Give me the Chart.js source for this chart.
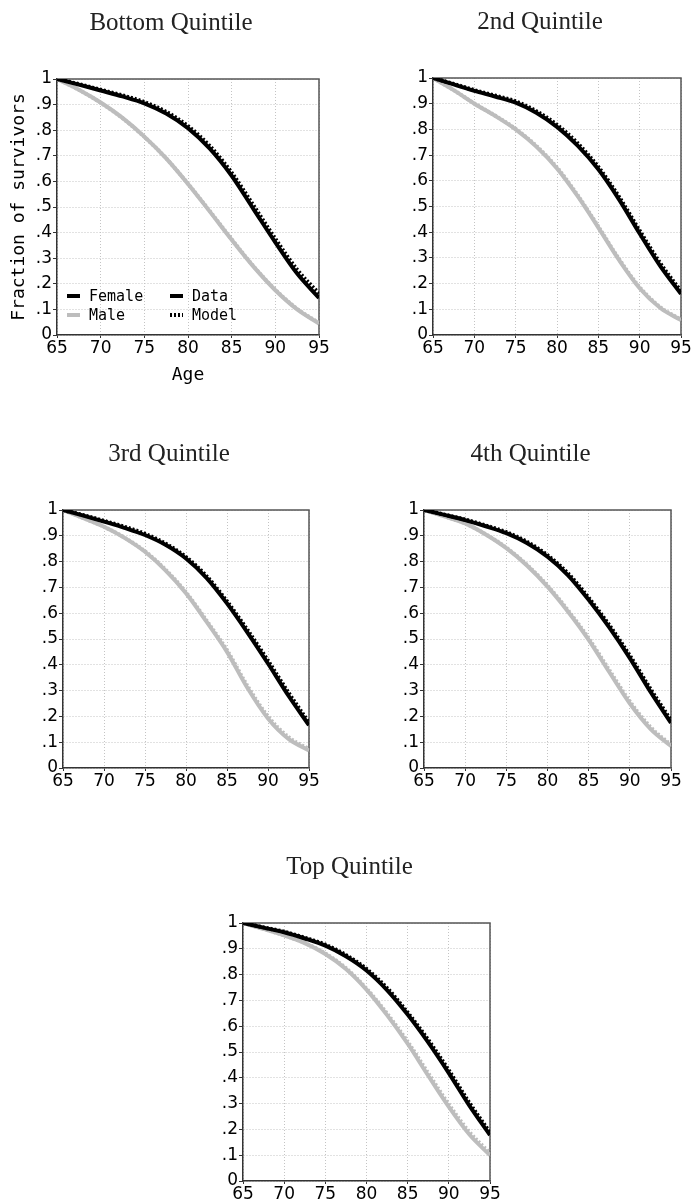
<!DOCTYPE html>
<html>
<head>
<meta charset="utf-8">
<title>Fraction of survivors by income quintile</title>
<script src="https://cdn.jsdelivr.net/npm/chart.js@4.4.1/dist/chart.umd.min.js"></script>
<style>
  html, body { margin: 0; padding: 0; background: #fff; }
  #page { position: relative; width: 692px; height: 1200px; overflow: hidden; }
  #page canvas { position: absolute; }
</style>
</head>
<body>
<div id="page"></div>
<script>
// ages on the x axis, a point every 2.5 years
const ages = [65, 67.5, 70, 72.5, 75, 77.5, 80, 82.5, 85, 87.5, 90, 92.5, 95];
const xTickLabels = ['65', '70', '75', '80', '85', '90', '95'];
const yTickLabels = ['0', '.1', '.2', '.3', '.4', '.5', '.6', '.7', '.8', '.9', '1'];
const quintileTitles = ['Bottom Quintile', '2nd Quintile', '3rd Quintile', '4th Quintile', 'Top Quintile'];
const keyLabels = ['Female', 'Male', 'Data', 'Model'];

// fraction still alive at each age, women
const femaleData1 = [1.000, 0.978, 0.955, 0.932, 0.905, 0.865, 0.808, 0.728, 0.622, 0.492, 0.362, 0.240, 0.145];
const femaleData2 = [1.000, 0.975, 0.950, 0.928, 0.904, 0.865, 0.810, 0.737, 0.645, 0.528, 0.395, 0.268, 0.160];
const femaleData3 = [1.000, 0.978, 0.955, 0.931, 0.903, 0.865, 0.812, 0.737, 0.638, 0.525, 0.405, 0.280, 0.166];
const femaleData4 = [1.000, 0.981, 0.961, 0.937, 0.910, 0.872, 0.819, 0.747, 0.652, 0.545, 0.426, 0.296, 0.175];
const femaleData5 = [1.000, 0.982, 0.964, 0.940, 0.912, 0.871, 0.816, 0.740, 0.645, 0.537, 0.418, 0.292, 0.178];

const femaleModel1 = [1.000, 0.980, 0.958, 0.936, 0.910, 0.872, 0.816, 0.738, 0.634, 0.506, 0.376, 0.255, 0.162];
const femaleModel2 = [1.000, 0.977, 0.953, 0.932, 0.909, 0.871, 0.818, 0.746, 0.654, 0.538, 0.406, 0.279, 0.170];
const femaleModel3 = [1.000, 0.980, 0.958, 0.935, 0.908, 0.870, 0.818, 0.744, 0.646, 0.535, 0.416, 0.292, 0.176];
const femaleModel4 = [1.000, 0.982, 0.963, 0.940, 0.914, 0.877, 0.825, 0.754, 0.660, 0.554, 0.436, 0.307, 0.185];
const femaleModel5 = [1.000, 0.983, 0.966, 0.943, 0.916, 0.876, 0.822, 0.748, 0.653, 0.547, 0.429, 0.303, 0.188];

// same for men
const maleData1 = [1.000, 0.958, 0.908, 0.848, 0.775, 0.690, 0.590, 0.482, 0.372, 0.267, 0.175, 0.100, 0.045];
const maleData2 = [1.000, 0.953, 0.900, 0.853, 0.800, 0.733, 0.648, 0.540, 0.418, 0.292, 0.182, 0.105, 0.058];
const maleData3 = [1.000, 0.968, 0.935, 0.892, 0.838, 0.766, 0.677, 0.567, 0.450, 0.310, 0.192, 0.113, 0.068];
const maleData4 = [1.000, 0.975, 0.948, 0.905, 0.852, 0.785, 0.703, 0.606, 0.497, 0.372, 0.250, 0.152, 0.085];
const maleData5 = [1.000, 0.977, 0.952, 0.922, 0.880, 0.822, 0.742, 0.643, 0.532, 0.408, 0.287, 0.180, 0.100];

const maleModel1 = [1.000, 0.958, 0.907, 0.847, 0.774, 0.690, 0.591, 0.484, 0.374, 0.269, 0.177, 0.102, 0.047];
const maleModel2 = [1.000, 0.953, 0.901, 0.854, 0.802, 0.736, 0.652, 0.544, 0.422, 0.296, 0.186, 0.108, 0.060];
const maleModel3 = [1.000, 0.968, 0.935, 0.893, 0.840, 0.769, 0.681, 0.572, 0.457, 0.318, 0.200, 0.120, 0.073];
const maleModel4 = [1.000, 0.975, 0.948, 0.906, 0.854, 0.788, 0.707, 0.611, 0.503, 0.380, 0.258, 0.159, 0.090];
const maleModel5 = [1.000, 0.977, 0.952, 0.923, 0.882, 0.825, 0.746, 0.649, 0.540, 0.418, 0.297, 0.190, 0.108];

const femaleData = [femaleData1, femaleData2, femaleData3, femaleData4, femaleData5];
const femaleModel = [femaleModel1, femaleModel2, femaleModel3, femaleModel4, femaleModel5];
const maleData = [maleData1, maleData2, maleData3, maleData4, maleData5];
const maleModel = [maleModel1, maleModel2, maleModel3, maleModel4, maleModel5];

// where each plot box sits on the page
const plotBoxes = [
    { left: 57,  top: 79,  right: 319, bottom: 335 },
    { left: 433, top: 78,  right: 681, bottom: 335 },
    { left: 63,  top: 510, right: 309, bottom: 768 },
    { left: 424, top: 510, right: 671, bottom: 768 },
    { left: 243, top: 923, right: 490, bottom: 1181 }
];

const FEMALE = '#000000';
const MALE = '#bdbdbd';
const tickFont = { family: 'DejaVu Sans', size: 17 };
const monoFont = { family: 'DejaVu Sans Mono', size: 18 };

// top and right edges of the plot frame
const frameLines = {
    id: 'frameLines',
    beforeDatasetsDraw(chart) {
        const { ctx, chartArea: a } = chart;
        ctx.save();
        ctx.strokeStyle = '#555';
        ctx.lineWidth = 1.5;
        ctx.beginPath();
        ctx.moveTo(a.left, a.top);
        ctx.lineTo(a.right, a.top);
        ctx.lineTo(a.right, a.bottom);
        ctx.stroke();
        ctx.restore();
    }
};

// serif heading above each panel
const panelHeading = {
    id: 'panelHeading',
    afterDraw(chart, args, opts) {
        const { ctx, chartArea: a } = chart;
        ctx.save();
        ctx.font = '25px "Liberation Serif"';
        ctx.fillStyle = '#222';
        ctx.textAlign = 'center';
        ctx.textBaseline = 'alphabetic';
        ctx.fillText(opts.text, (a.left + a.right) / 2 + opts.offsetX, a.top - opts.rise);
        ctx.restore();
    }
};

// two-column key inside the first panel
const keyBox = {
    id: 'keyBox',
    afterDatasetsDraw(chart, args, opts) {
        if (!opts.show) return;
        const { ctx, chartArea: a } = chart;
        const items = [
            { text: keyLabels[0], color: FEMALE, dash: [], col: 0, row: 0 },
            { text: keyLabels[1], color: MALE, dash: [], col: 0, row: 1 },
            { text: keyLabels[2], color: FEMALE, dash: [], col: 1, row: 0 },
            { text: keyLabels[3], color: FEMALE, dash: [2, 2], col: 1, row: 1 }
        ];
        const colX = [a.left + 10, a.left + 113];
        const rowY = [a.bottom - 39, a.bottom - 20];
        ctx.save();
        ctx.font = '15px "DejaVu Sans Mono"';
        ctx.textBaseline = 'middle';
        items.forEach(it => {
            const x = colX[it.col], y = rowY[it.row];
            ctx.strokeStyle = it.color;
            ctx.lineWidth = 4;
            ctx.setLineDash(it.dash);
            ctx.beginPath();
            ctx.moveTo(x, y);
            ctx.lineTo(x + 13, y);
            ctx.stroke();
            ctx.setLineDash([]);
            ctx.fillStyle = '#000';
            ctx.fillText(it.text, x + 22, y + 1);
        });
        ctx.restore();
    }
};

function toPoints(values) {
    return values.map((v, i) => ({ x: ages[i], y: v }));
}

function line(label, values, color, dashed) {
    return {
        label: label,
        data: toPoints(values),
        borderColor: color,
        borderWidth: 4,
        borderDash: dashed ? [2, 2] : [],
        pointRadius: 0,
        fill: false,
        cubicInterpolationMode: 'monotone'
    };
}

function drawPanel(i) {
    const box = plotBoxes[i];
    const first = i === 0;
    const padTop = 82;
    const padRight = 14;
    const canvasLeft = first ? 0 : box.left - 42;
    const yAxisWidth = box.left - canvasLeft;
    const xAxisHeight = first ? 56 : 26;
    const width = yAxisWidth + (box.right - box.left) + padRight;
    const height = padTop + (box.bottom - box.top) + xAxisHeight;

    const canvas = document.createElement('canvas');
    canvas.width = width;
    canvas.height = height;
    canvas.style.left = canvasLeft + 'px';
    canvas.style.top = (box.top - padTop) + 'px';
    document.getElementById('page').appendChild(canvas);

    new Chart(canvas.getContext('2d'), {
        type: 'line',
        data: {
            datasets: [
                line('Female data', femaleData[i], FEMALE, false),
                line('Female model', femaleModel[i], FEMALE, true),
                line('Male data', maleData[i], MALE, false),
                line('Male model', maleModel[i], MALE, true)
            ]
        },
        options: {
            responsive: false,
            animation: false,
            devicePixelRatio: 1,
            layout: { padding: { left: 0, top: padTop, right: padRight, bottom: 0 } },
            scales: {
                x: {
                    type: 'linear',
                    min: 65,
                    max: 95,
                    afterFit: s => { s.height = xAxisHeight; },
                    ticks: {
                        stepSize: 5,
                        autoSkip: false,
                        maxRotation: 0,
                        padding: 0,
                        color: '#000',
                        font: tickFont,
                        callback: (v, idx) => xTickLabels[idx]
                    },
                    grid: { color: '#c4c4c4', lineWidth: 1, tickLength: 3, tickColor: '#333', tickWidth: 1 },
                    border: { display: true, color: '#333', width: 1.5, dash: [1, 2] },
                    title: {
                        display: first,
                        text: 'Age',
                        color: '#000',
                        font: monoFont,
                        padding: { top: 0, bottom: 5 }
                    }
                },
                y: {
                    min: 0,
                    max: 1,
                    afterFit: s => { s.width = yAxisWidth; },
                    ticks: {
                        stepSize: 0.1,
                        autoSkip: false,
                        padding: 1,
                        color: '#000',
                        font: tickFont,
                        callback: (v, idx) => yTickLabels[idx]
                    },
                    grid: { color: '#c4c4c4', lineWidth: 1, tickLength: 4, tickColor: '#333', tickWidth: 1 },
                    border: { display: true, color: '#333', width: 1.5, dash: [1, 2] },
                    title: {
                        display: first,
                        text: 'Fraction of survivors',
                        color: '#000',
                        font: monoFont,
                        padding: { top: 9, bottom: 0 }
                    }
                }
            },
            plugins: {
                legend: { display: false },
                tooltip: { enabled: false },
                panelHeading: { text: quintileTitles[i], offsetX: -17, rise: 49 },
                keyBox: { show: first }
            }
        },
        plugins: [frameLines, panelHeading, keyBox]
    });
}

document.addEventListener('DOMContentLoaded', function() {
    for (let i = 0; i < plotBoxes.length; i++) {
        drawPanel(i);
    }
});
</script>
</body>
</html>
